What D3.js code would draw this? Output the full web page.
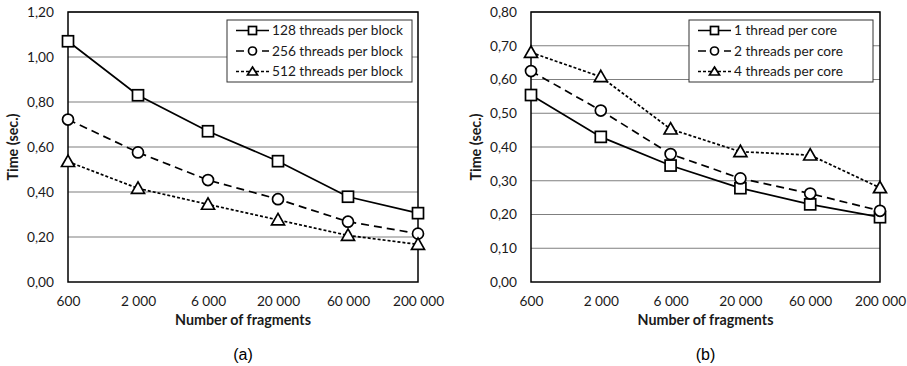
<!DOCTYPE html>
<html><head><meta charset="utf-8">
<script src="https://cdn.jsdelivr.net/npm/d3@7"></script>
<style>
body{margin:0;background:#fff;}
svg{display:block;font-family:"Lato","Open Sans",sans-serif;}
</style></head>
<body><svg id="c" width="907" height="366"></svg>
<script>
const categories = ["600","2 000","6 000","20 000","60 000","200 000"];
const leftNames = ["128 threads per block","256 threads per block","512 threads per block"];
const left128 = [1.07,0.83,0.67,0.537,0.379,0.306];
const left256 = [0.722,0.576,0.453,0.368,0.268,0.215];
const left512 = [0.535,0.416,0.345,0.276,0.207,0.167];
const leftTicks = [0,0.2,0.4,0.6,0.8,1.0,1.2];
const rightNames = ["1 thread per core","2 threads per core","4 threads per core"];
const right1 = [0.554,0.43,0.345,0.278,0.23,0.192];
const right2 = [0.625,0.508,0.379,0.307,0.262,0.211];
const right4 = [0.68,0.608,0.453,0.386,0.376,0.279];
const rightTicks = [0,0.1,0.2,0.3,0.4,0.5,0.6,0.7,0.8];
const xTitle = "Number of fragments";
const yTitle = "Time (sec.)";

const svg = d3.select("#c");
const styles = [
  {dash:null, shape:"square"},
  {dash:"8,5", shape:"circle"},
  {dash:"3,2", shape:"triangle"}
];
const fmt = v => v.toFixed(2).replace(".", ",");
const TXT = "#1a1a1a";

function marker(g, shape, x, y){
  if(shape==="square"){
    g.append("rect").attr("x",x-5.5).attr("y",y-5.5).attr("width",11).attr("height",11)
      .attr("fill","#fff").attr("stroke","#000").attr("stroke-width",1.7);
  } else if(shape==="circle"){
    g.append("circle").attr("cx",x).attr("cy",y).attr("r",5.5)
      .attr("fill","#fff").attr("stroke","#000").attr("stroke-width",1.7);
  } else {
    const s=6.5;
    g.append("path").attr("d",`M${x},${y-s}L${x+s},${y+s*0.75}L${x-s},${y+s*0.75}Z`)
      .attr("fill","#fff").attr("stroke","#000").attr("stroke-width",1.7);
  }
}

function panel(cfg){
  const g = svg.append("g");
  const x = d3.scalePoint().domain(categories).range([cfg.x0,cfg.x1]);
  const y = d3.scaleLinear().domain([0,cfg.max]).range([cfg.y1,cfg.y0]);
  g.selectAll("line.grid").data(cfg.ticks.slice(1)).join("line")
    .attr("x1",cfg.x0).attr("x2",cfg.x1).attr("y1",d=>y(d)).attr("y2",d=>y(d))
    .attr("stroke","#7f7f7f").attr("stroke-width",1.2);
  g.append("rect").attr("x",cfg.x0).attr("y",cfg.y0).attr("width",cfg.x1-cfg.x0).attr("height",cfg.y1-cfg.y0)
    .attr("fill","none").attr("stroke","#000").attr("stroke-width",1.5);
  const ya = d3.axisLeft(y).tickValues(cfg.ticks).tickFormat(fmt).tickSize(0).tickPadding(14);
  const yg = g.append("g").attr("transform",`translate(${cfg.x0},0)`).call(ya);
  yg.select(".domain").remove();
  yg.selectAll("text").attr("font-size",13.7).attr("fill",TXT).attr("font-family","Lato,'Open Sans',sans-serif");
  const xa = d3.axisBottom(x).tickSize(0).tickPadding(14);
  const xg = g.append("g").attr("transform",`translate(0,${cfg.y1})`).call(xa);
  xg.select(".domain").remove();
  xg.selectAll("text").attr("font-size",13.7).attr("fill",TXT).attr("font-family","Lato,'Open Sans',sans-serif");
  g.append("text").attr("x",(cfg.x0+cfg.x1)/2).attr("y",cfg.y1+43).attr("text-anchor","middle")
    .attr("font-size",14.3).attr("font-weight","bold").attr("fill",TXT).text(xTitle);
  g.append("text").attr("transform",`translate(${cfg.x0-50},${(cfg.y0+cfg.y1)/2}) rotate(-90)`)
    .attr("text-anchor","middle").attr("font-size",14.3).attr("font-weight","bold").attr("fill",TXT).text(yTitle);
  g.append("text").attr("x",(cfg.x0+cfg.x1)/2).attr("y",360).attr("text-anchor","middle")
    .attr("font-size",16).attr("font-family","'Liberation Sans',Arial,sans-serif").attr("fill","#000").text(cfg.label);
  const line = d3.line().x((d,i)=>x(categories[i])).y(d=>y(d));
  cfg.series.forEach((s,k)=>{
    g.append("path").attr("d",line(s)).attr("fill","none").attr("stroke","#000")
      .attr("stroke-width",1.7).attr("stroke-dasharray",styles[k].dash);
  });
  cfg.series.forEach((s,k)=>{
    s.forEach((v,i)=>marker(g,styles[k].shape,x(categories[i]),y(v)));
  });
  const L = cfg.legend;
  g.append("rect").attr("x",L.x).attr("y",L.y).attr("width",L.w).attr("height",L.h)
    .attr("fill","#fff").attr("stroke","#333").attr("stroke-width",1);
  cfg.names.forEach((n,k)=>{
    const cy = L.y+10.5+k*20.5;
    const lx = L.x+9;
    g.append("line").attr("x1",lx).attr("x2",lx+33).attr("y1",cy).attr("y2",cy)
      .attr("stroke","#000").attr("stroke-width",1.7).attr("stroke-dasharray",styles[k].dash);
    const mg = g.append("g");
    if(styles[k].shape==="square") mg.append("rect").attr("x",lx+16.5-4).attr("y",cy-4).attr("width",8).attr("height",8).attr("fill","#fff").attr("stroke","#000").attr("stroke-width",1.7);
    else if(styles[k].shape==="circle") mg.append("circle").attr("cx",lx+16.5).attr("cy",cy).attr("r",4).attr("fill","#fff").attr("stroke","#000").attr("stroke-width",1.7);
    else mg.append("path").attr("d",`M${lx+16.5},${cy-4.5}L${lx+21.5},${cy+3.5}L${lx+11.5},${cy+3.5}Z`).attr("fill","#fff").attr("stroke","#000").attr("stroke-width",1.7);
    g.append("text").attr("x",lx+36).attr("y",cy+4.8).attr("font-size",13.7).attr("fill",TXT).text(n);
  });
}

panel({x0:68,x1:418,y0:12,y1:282,max:1.2,ticks:leftTicks,label:"(a)",
  series:[left128,left256,left512],names:leftNames,
  legend:{x:227,y:20,w:185,h:62}});
panel({x0:531,x1:880,y0:12,y1:282,max:0.8,ticks:rightTicks,label:"(b)",
  series:[right1,right2,right4],names:rightNames,
  legend:{x:689,y:20,w:184,h:62}});
</script></body></html>
